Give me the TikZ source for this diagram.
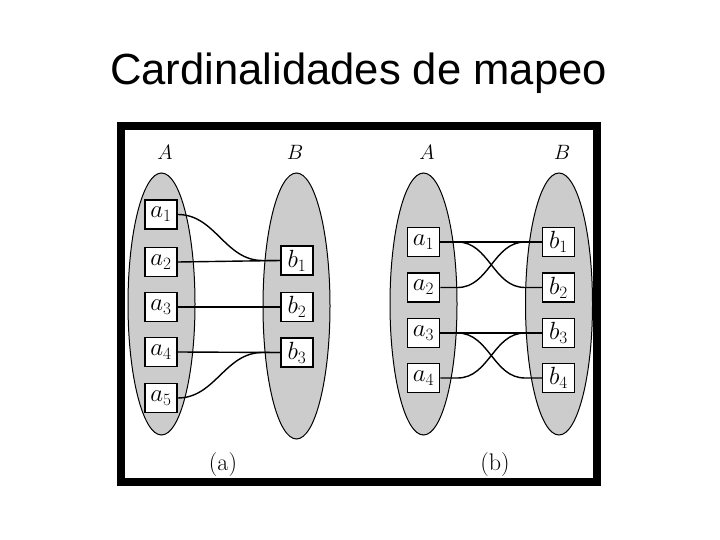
\documentclass[tikz,border=0pt]{standalone}
\usepackage{fontspec}
\newfontfamily\titlefont{Liberation Sans}
\usetikzlibrary{
    shapes.geometric,
    calc
}
\tikzset{
  setell/.style  = {draw, ellipse, fill=SetGray, line width=1pt,
                    minimum width=67pt, minimum height=262pt, inner sep=0pt},
  elem/.style    = {draw, fill=white, line width=1.5pt, minimum width=32pt,
                    minimum height=29pt, inner sep=0pt,
                    font=\fontsize{26}{29}\selectfont},
  lbl/.style     = {font=\fontsize{21}{24}\selectfont},
  caplbl/.style  = {font=\fontsize{24}{28}\selectfont},
  lnk/.style     = {line width=1.4pt}
}
\definecolor{SetGray}{RGB}{204,204,204}

\begin{document}
\begin{tikzpicture}[x=1pt,y=-1pt]
\useasboundingbox (0,0) rectangle (720,540);
\node[anchor=base,font=\titlefont\fontsize{43.6}{50}\selectfont] (title) at (358.5,85) {Cardinalidades de mapeo};
\draw[line width=8pt] (121,126) rectangle (597,482);

% (a) many to one
\node[setell] (Aa) at (161.5,304) {};
\node[setell,minimum height=266pt] (Ba) at (296.5,306) {};
\node[lbl] (Alab) at (165,152) {$A$};
\node[lbl] (Blab) at (295,152) {$B$};
\node[elem] (a1) at (161,214.5) {$a_1$};
\node[elem] (a2) at (161,262) {$a_2$};
\node[elem] (a3) at (161,307) {$a_3$};
\node[elem] (a4) at (161,352) {$a_4$};
\node[elem] (a5) at (161,398) {$a_5$};
\node[elem] (b1) at (297,260.5) {$b_1$};
\node[elem] (b2) at (297,307) {$b_2$};
\node[elem] (b3) at (297,352.5) {$b_3$};
\draw[lnk] (a1.east) to[out=0,in=180] (b1.west -| Ba.west) -- (b1.west);
\draw[lnk] (a2.east) -- (b1.west);
\draw[lnk] (a3.east) -- (b2.west);
\draw[lnk] (a4.east) -- (b3.west);
\draw[lnk] (a5.east) to[out=0,in=180] (b3.west -| Ba.west) -- (b3.west);
\node[caplbl] (capa) at (223,465) {(a)};

% (b) many to many
\node[setell] (Ab) at (423.5,304) {};
\node[setell] (Bb) at (559,304) {};
\node[lbl] (Alabb) at (427,152) {$A$};
\node[lbl] (Blabb) at (562,152) {$B$};
\node[elem] (c1) at (423.5,242) {$a_1$};
\node[elem] (c2) at (423.5,287.5) {$a_2$};
\node[elem] (c3) at (423.5,333) {$a_3$};
\node[elem] (c4) at (423.5,378) {$a_4$};
\node[elem] (d1) at (558.5,242) {$b_1$};
\node[elem] (d2) at (558.5,287.5) {$b_2$};
\node[elem] (d3) at (558.5,333) {$b_3$};
\node[elem] (d4) at (558.5,378) {$b_4$};
\draw[lnk] (c1.east) -- (d1.west);
\draw[lnk] (c1.east) -- (c1.east -| Ab.east) to[out=0,in=180] (d2.west -| Bb.west) -- (d2.west);
\draw[lnk] (c2.east) -- (c2.east -| Ab.east) to[out=0,in=180] (d1.west -| Bb.west) -- (d1.west);
\draw[lnk] (c3.east) -- (d3.west);
\draw[lnk] (c3.east) -- (c3.east -| Ab.east) to[out=0,in=180] (d4.west -| Bb.west) -- (d4.west);
\draw[lnk] (c4.east) -- (c4.east -| Ab.east) to[out=0,in=180] (d3.west -| Bb.west) -- (d3.west);
\node[caplbl] (capb) at (495,465) {(b)};
\end{tikzpicture}
\end{document}
